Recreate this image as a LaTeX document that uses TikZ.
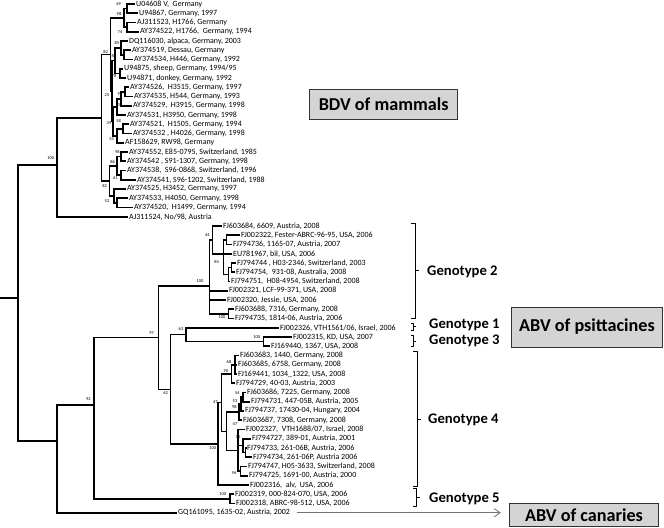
\documentclass[tikz,border=0pt]{standalone}
\usepackage{fontspec}
\setmainfont{Carlito}
\usetikzlibrary{arrows.meta}
\begin{document}
\begin{tikzpicture}[x=0.03cm,y=-0.03cm]
    % --- styles ---
    \tikzset{
      branch/.style={line width=1.35pt},
      leaf/.style={anchor=west,inner sep=0.8pt,font=\fontsize{6.8}{7}\selectfont},
      bs/.style={inner sep=0pt,font=\fontsize{3.8}{4}\selectfont},
      geno/.style={anchor=west,inner sep=0pt,font=\fontsize{12.5}{14}\selectfont\bfseries},
      regbox/.style={draw=black!80,fill=black!17,line width=0.8pt,anchor=west,inner sep=2pt,
        font=\fontsize{15.5}{18}\selectfont\bfseries},
      brk/.style={line width=0.6pt,line join=round},
      pointer/.style={draw=black!55,line width=0.7pt,-{Straight Barb[length=5pt,width=7pt]}}
    }
    \useasboundingbox (0,0) rectangle (664,528);
    \fill[white] (0,0) rectangle (664,528);

    % internal nodes of the tree
    \coordinate (stub) at (0,298);
    \coordinate (root) at (18,298);
    \coordinate (n100) at (57,165);
    \coordinate (nM)   at (101.7,117.8);
    \coordinate (nTop) at (110.7,54.5);
    \coordinate (n98)  at (124,17.9);
    \coordinate (n69)  at (127,8.6);
    \coordinate (n74)  at (127,27.1);
    \coordinate (nC)   at (112,91);
    \coordinate (n82b) at (115,60.7);
    \coordinate (n85)  at (121,48);
    \coordinate (n85b) at (124,54.9);
    \coordinate (n78)  at (120,73.4);
    \coordinate (n39)  at (113,121.4);
    \coordinate (n38a) at (117,106.9);
    \coordinate (n38)  at (121,98.8);
    \coordinate (n99)  at (125,91.9);
    \coordinate (n54)  at (117,135.8);
    \coordinate (n58)  at (123,128.9);
    \coordinate (nBot) at (109.3,181);
    \coordinate (n86)  at (117,165.9);
    \coordinate (n98b) at (121,156.6);
    \coordinate (n61)  at (121,175.1);
    \coordinate (n52)  at (114,196);
    \coordinate (n52b) at (117,202.9);
    % ABV part
    \coordinate (n92a) at (57,441);
    \coordinate (n92)  at (94,405);
    \coordinate (n97)  at (158.3,337.6);
    \coordinate (nG2)  at (209.3,286);
    \coordinate (n44)  at (212.7,239.9);
    \coordinate (n84)  at (223.3,253.75);
    \coordinate (n84a) at (226.7,239.9);
    \coordinate (n84b) at (228.3,274.6);
    \coordinate (n84c) at (231.7,267.6);
    \coordinate (n100c) at (228.3,313.9);
    \coordinate (n62a) at (170.7,389.3);
    \coordinate (n62b) at (186,334.7);
    \coordinate (nG3)  at (263.3,341.6);
    \coordinate (nG4)  at (218,443.8);
    \coordinate (n47a) at (221.5,402.6);
    \coordinate (n90)  at (231.7,374);
    \coordinate (n68)  at (235,364.75);
    \coordinate (n47b) at (226.7,431.3);
    \coordinate (n98c) at (239,412.2);
    \coordinate (n53)  at (241,404.1);
    \coordinate (n54b) at (243,397.1);
    \coordinate (n47c) at (238,450.3);
    \coordinate (n75)  at (243,445.7);
    \coordinate (n75b) at (245.5,452.6);
    \coordinate (n96)  at (240.5,471.1);
    \coordinate (nG5)  at (230,498.9);

    % leaves: BDV of mammals
    \node[leaf] (l1)  at (135,4)      {U04608 V, \ Germany};
    \node[leaf] (l2)  at (138,13.25)  {U94867, Germany, 1997};
    \node[leaf] (l3)  at (136,22.5)   {AJ311523, H1766, Germany};
    \node[leaf] (l4)  at (139,31.75)  {AY374522, H1766, \ Germany, 1994};
    \node[leaf] (l5)  at (128,41)     {DQ116030, alpaca, Germany, 2003};
    \node[leaf] (l6)  at (131,50.25)  {AY374519, Dessau, Germany};
    \node[leaf] (l7)  at (133,59.5)   {AY374534, H446, Germany, 1992};
    \node[leaf] (l8)  at (123,68.75)  {U94875, sheep, Germany, 1994/95};
    \node[leaf] (l9)  at (126,78)     {U94871, donkey, Germany, 1992};
    \node[leaf] (l10) at (129,87.25)  {AY374526, \ H3515, Germany, 1997};
    \node[leaf] (l11) at (133,96.5)   {AY374535, H544, Germany, 1993};
    \node[leaf] (l12) at (132,105.75) {AY374529, \ H3915, Germany, 1998};
    \node[leaf] (l13) at (126,115)    {AY374531, H3950, Germany, 1998};
    \node[leaf] (l14) at (129,124.25) {AY374521, \ H1505, Germany, 1994};
    \node[leaf] (l15) at (132,133.5)  {AY374532 , H4026, Germany, 1998};
    \node[leaf] (l16) at (124,142.75) {AF158629, RW98, Germany};
    \node[leaf] (l17) at (128,152)    {AY374552, E85-0795, Switzerland, 1985};
    \node[leaf] (l18) at (126,161.25) {AY374542 , S91-1307, Germany, 1998};
    \node[leaf] (l19) at (126,170.5)  {AY374538, \ S96-0868, Switzerland, 1996};
    \node[leaf] (l20) at (136,179.75) {AY374541, S96-1202, Switzerland, 1988};
    \node[leaf] (l21) at (126,189)    {AY374525, H3452, Germany, 1997};
    \node[leaf] (l22) at (128,198.25) {AY374533, H4050, Germany, 1998};
    \node[leaf] (l23) at (133,207.5)  {AY374520, \ H1499, Germany, 1994};
    \node[leaf] (l24) at (128,216.75) {AJ311524, No/98, Austria};
    % leaves: ABV
    \node[leaf] (l25) at (222,226)    {FJ603684, 6609, Austria, 2008};
    \node[leaf] (l26) at (240,235.25) {FJ002322, Fester-ABRC-96-95, USA, 2006};
    \node[leaf] (l27) at (232,244.5)  {FJ794736, 1165-07, Austria, 2007};
    \node[leaf] (l28) at (232,253.75) {EU781967, bil, USA, 2006};
    \node[leaf] (l29) at (236,263)    {FJ794744 , H03-2346, Switzerland, 2003};
    \node[leaf] (l30) at (235,272.25) {FJ794754, \ 931-08, Australia, 2008};
    \node[leaf] (l31) at (230,281.5)  {FJ794751, \ H08-4954, Switzerland, 2008};
    \node[leaf] (l32) at (228,290.75) {FJ002321, LCF-99-371, USA, 2008};
    \node[leaf] (l33) at (226,300)    {FJ002320, Jessie, USA, 2006};
    \node[leaf] (l34) at (234,309.25) {FJ603688, 7316, Germany, 2008};
    \node[leaf] (l35) at (234,318.5)  {FJ794735, 1814-06, Austria, 2006};
    \node[leaf] (l36) at (279,327.75) {FJ002326, VTH1561/06, Israel, 2006};
    \node[leaf] (l37) at (292,337)    {FJ002315, KD, USA, 2007};
    \node[leaf] (l38) at (270,346.25) {FJ169440, 1367, USA, 2008};
    \node[leaf] (l39) at (239,355.5)  {FJ603683, 1440, Germany, 2008};
    \node[leaf] (l40) at (237,364.75) {FJ603685, 6758, Germany, 2008};
    \node[leaf] (l41) at (237,374)    {FJ169441, 1034\_1322, USA, 2008};
    \node[leaf] (l42) at (235,383.25) {FJ794729, 40-03, Austria, 2003};
    \node[leaf] (l43) at (246,392.5)  {FJ603686, 7225, Germany, 2008};
    \node[leaf] (l44) at (250,401.75) {FJ794731, 447-05B, Austria, 2005};
    \node[leaf] (l45) at (244,411)    {FJ794737, 17430-04, Hungary, 2004};
    \node[leaf] (l46) at (242,420.25) {FJ603687, 7308, Germany, 2008};
    \node[leaf] (l47) at (245,429.5)  {FJ002327, \ VTH1688/07, Israel, 2008};
    \node[leaf] (l48) at (251,438.75) {FJ794727, 389-01, Austria, 2001};
    \node[leaf] (l49) at (246,448)    {FJ794733, 261-06B, Austria, 2006};
    \node[leaf] (l50) at (252,457.25) {FJ794734, 261-06P, Austria 2006};
    \node[leaf] (l51) at (247,466.5)  {FJ794747, H05-3633, Switzerland, 2008};
    \node[leaf] (l52) at (248,475.75) {FJ794725, 1691-00, Austria, 2000};
    \node[leaf] (l53) at (249,485)    {FJ002316, \ alv, \ USA, 2006};
    \node[leaf] (l54) at (234,494.25) {FJ002319, 000-824-070, USA, 2006};
    \node[leaf] (l55) at (235,503.5)  {FJ002318, ABRC-98-512, USA, 2006};
    \node[leaf] (l56) at (177,512.75) {GQ161095, 1635-02, Austria, 2002};

    % branches (parent |- child)
    \draw[branch] (stub) -- (root);
    \foreach \p/\c in {root/n100,root/n92a,n100/nM,n100/l24,nM/nTop,nM/nBot,
        nTop/n98,nTop/nC,n98/n69,n98/n74,n69/l1,n69/l2,n74/l3,n74/l4,
        nC/n82b,nC/n39,n82b/n85,n82b/n78,n85/l5,n85/n85b,n85b/l6,n85b/l7,n78/l8,n78/l9,
        n39/n38a,n39/n54,n38a/n38,n38a/l13,n38/n99,n38/l12,n99/l10,n99/l11,
        n54/n58,n54/l16,n58/l14,n58/l15,nBot/n86,nBot/n52,n86/n98b,n86/n61,
        n98b/l17,n98b/l18,n61/l19,n61/l20,n52/l21,n52/n52b,n52b/l22,n52b/l23,
        n92a/n92,n92a/l56,n92/n97,n92/nG5,n97/nG2,n97/n62a,
        nG2/n44,nG2/l32,nG2/l33,nG2/n100c,n44/l25,n44/n84,
        n84/n84a,n84/l28,n84/n84b,n84a/l26,n84a/l27,n84b/n84c,n84b/l31,n84c/l29,n84c/l30,
        n100c/l34,n100c/l35,n62a/n62b,n62a/nG4,n62b/l36,n62b/nG3,nG3/l37,nG3/l38,
        nG4/n47a,nG4/l53,n47a/n90,n47a/n47b,n90/n68,n90/l42,n68/l39,n68/l40,n68/l41,
        n47b/n98c,n47b/n47c,n98c/n53,n98c/l46,n53/n54b,n53/l45,n54b/l43,n54b/l44,
        n47c/l47,n47c/n75,n47c/n96,n75/l48,n75/n75b,n75b/l49,n75b/l50,
        n96/l51,n96/l52,nG5/l54,nG5/l55}
      \draw[branch] (\p) |- (\c);

    % bootstrap values
    \foreach \bx/\by/\bv [count=\i] in {118.7/4/69,119/14/98,120/31.7/74,117/43/85,
        105.7/51.7/82,114/55.7/82,114/76/78,107/95/25,120/94/99,120/105/38,
        109/123/39,118.7/120.7/58,111.7/139/54,117.3/151.7/98,112.7/161.7/86,
        115.3/177.7/61,104.7/185.7/82,107/200.7/52,50.7/158/100,
        207.3/235/44,216.7/261.7/84,200/281/100,222/317.3/100,151.7/333/97,
        181/329.3/62,256.7/336.7/100,165.7/392.7/62,88.3/399.3/92,229/362.3/68,
        226/370.7/90,215.3/402.3/47,237.3/392.7/54,235/400.7/53,234.3/407.3/98,
        235/424/47,238/436.7/75,212.7/447.7/100,234/473.3/96,222.7/494/100}
      \node[bs] (bs\i) at (\bx,\by) {\bv};

    % genotype brackets
    \draw[brk] (411,223) -- (415,223) -- (415,318) -- (411,318) (415,270.5) -- (419,270.5);
    \draw[brk] (410.5,323.5) -- (413,323.5) -- (413,330) -- (410.5,330) (413,326.8) -- (416,326.8);
    \draw[brk] (410.5,335.5) -- (413,335.5) -- (413,346.5) -- (410.5,346.5) (413,341) -- (416,341);
    \draw[brk] (413,351.7) -- (417,351.7) -- (417,486.7) -- (413,486.7) (417,419.2) -- (421,419.2);
    \draw[brk] (413,488.3) -- (416,488.3) -- (416,506) -- (413,506) (416,497.2) -- (419.5,497.2);

    \node[geno] (g2) at (427,272)   {Genotype 2};
    \node[geno] (g1) at (429,325)   {Genotype 1};
    \node[geno] (g3) at (429,340.7) {Genotype 3};
    \node[geno] (g4) at (428,420)   {Genotype 4};
    \node[geno] (g5) at (429,499)   {Genotype 5};

    % host groups
    \node[regbox,minimum width=4.45cm,minimum height=0.9cm] (bdv)  at (309,104) {BDV of mammals};
    \node[regbox,minimum width=4.53cm,minimum height=1.2cm] (abvp) at (511,327) {ABV of psittacines};
    \node[regbox,minimum width=4.47cm,minimum height=0.69cm] (abvc) at (509,515) {ABV of canaries};

    \draw[pointer,shorten <=5pt,shorten >=7pt] (l56.east) -- (l56.east -| abvc.west);
\end{tikzpicture}
\end{document}
